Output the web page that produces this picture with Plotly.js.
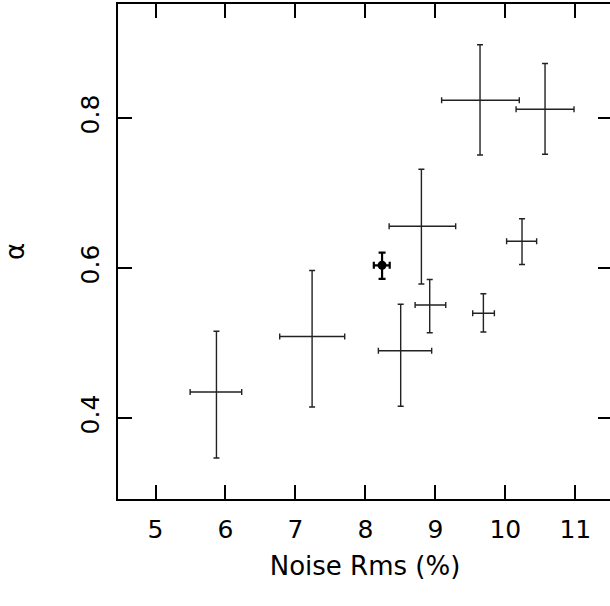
<!DOCTYPE html>
<html>
<head>
<meta charset="utf-8">
<script src="https://cdn.plot.ly/plotly-3.0.1.min.js"></script>
<style>
html,body{margin:0;padding:0;overflow:hidden;background:#fff;width:610px;height:606px;}
#chart{width:616px;height:606px;}
</style>
</head>
<body>
<div id="chart"></div>
<script>
// Open points (no marker): noise rms (%), alpha, asymmetric errors
const noiseRms   = [5.871, 7.238, 8.504, 8.800, 8.919, 9.686, 10.238, 9.638, 10.567];
const alphaVal   = [0.435, 0.509, 0.490, 0.656, 0.551, 0.540, 0.636, 0.824, 0.812];
const xErrMinus  = [0.376, 0.463, 0.319, 0.461, 0.209, 0.153, 0.220, 0.549, 0.414];
const xErrPlus   = [0.361, 0.466, 0.443, 0.490, 0.229, 0.157, 0.209, 0.561, 0.414];
const yErrPlus   = [0.081, 0.088, 0.062, 0.076, 0.034, 0.026, 0.030, 0.074, 0.061];
const yErrMinus  = [0.088, 0.094, 0.074, 0.077, 0.037, 0.025, 0.031, 0.073, 0.060];

// Highlighted (filled) point
const hlNoise = [8.238];
const hlAlpha = [0.604];
const hlXMinus = [0.118];
const hlXPlus = [0.109];
const hlYPlus = [0.017];
const hlYMinus = [0.018];

const xTicks = [5, 6, 7, 8, 9, 10, 11];
const yTicks = [0.4, 0.6, 0.8];

const FONT = 'DejaVu Sans ExtraLight, DejaVu Sans, Liberation Sans, sans-serif';

const traces = [
  {
    x: noiseRms, y: alphaVal, type: 'scatter', mode: 'markers',
    marker: {size: 1, color: 'rgba(0,0,0,0)'},
    error_x: {type: 'data', symmetric: false, array: xErrPlus, arrayminus: xErrMinus, color: '#222', thickness: 1.4, width: 3},
    error_y: {type: 'data', symmetric: false, array: yErrPlus, arrayminus: yErrMinus, color: '#222', thickness: 1.4, width: 3},
    hoverinfo: 'skip', showlegend: false
  },
  {
    x: hlNoise, y: hlAlpha, type: 'scatter', mode: 'markers',
    marker: {size: 9, color: '#000'},
    error_x: {type: 'data', symmetric: false, array: hlXPlus, arrayminus: hlXMinus, color: '#000', thickness: 2.2, width: 3.5},
    error_y: {type: 'data', symmetric: false, array: hlYPlus, arrayminus: hlYMinus, color: '#000', thickness: 2.2, width: 3.5},
    hoverinfo: 'skip', showlegend: false
  }
];

const layout = {
  width: 616, height: 606,
  margin: {l: 117.5, r: 4.3, t: 4, b: 107},
  paper_bgcolor: '#fff', plot_bgcolor: '#fff',
  font: {family: FONT, color: '#000'},
  showlegend: false,
  xaxis: {
    range: [4.464, 11.524],
    tickmode: 'array', tickvals: xTicks, ticktext: xTicks.map(String),
    ticks: 'inside', ticklen: 14, tickwidth: 2, tickcolor: '#000',
    showline: true, linewidth: 2, linecolor: '#000', mirror: 'ticks',
    showgrid: false, zeroline: false,
    tickfont: {family: FONT, size: 25, color: '#000'},
    ticklabelstandoff: 7,
    title: {text: 'Noise Rms (%)', font: {family: FONT, size: 26, color: '#000'}, standoff: 14},
    automargin: false
  },
  yaxis: {
    range: [0.2924, 0.9524],
    tickmode: 'array', tickvals: yTicks, ticktext: yTicks.map(v => v.toFixed(1)),
    ticks: 'inside', ticklen: 14, tickwidth: 2, tickcolor: '#000',
    showline: true, linewidth: 2, linecolor: '#000', mirror: 'ticks',
    showgrid: false, zeroline: false,
    tickangle: -90,
    tickfont: {family: FONT, size: 25, color: '#000'},
    ticklabelstandoff: 7,
    title: {text: 'α', font: {family: FONT, size: 26, color: '#000'}, standoff: 44},
    automargin: false
  }
};

Plotly.newPlot('chart', traces, layout, {staticPlot: true, displayModeBar: false});
</script>
</body>
</html>
